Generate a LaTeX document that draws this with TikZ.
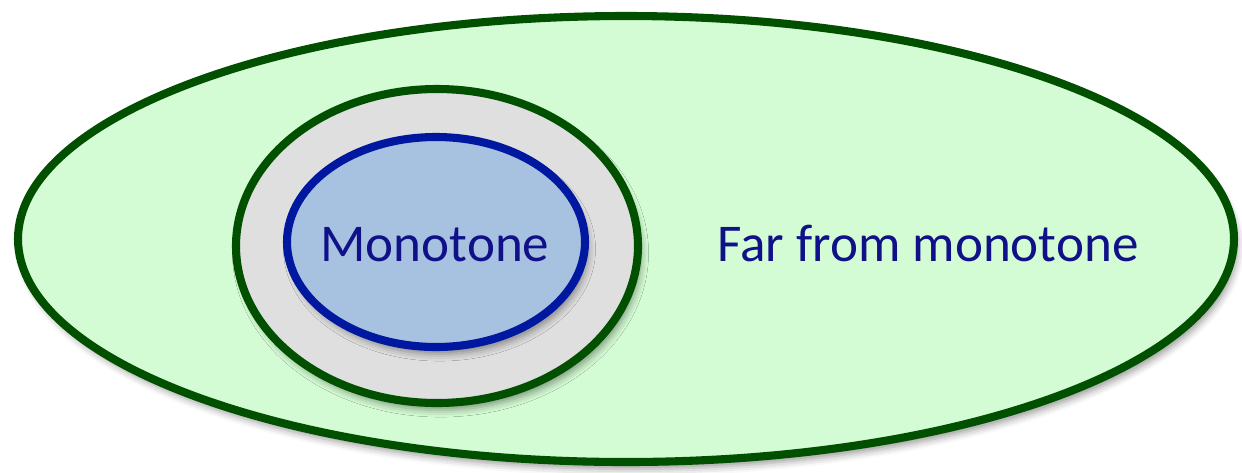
\documentclass[tikz,border=0pt]{standalone}
\usepackage{fontspec}
\setmainfont{Carlito}
\usepackage{xcolor}
\usepackage{tikz}
\usetikzlibrary{shadows.blur}
\definecolor{farfill}{HTML}{D4FCD4}
\definecolor{fardraw}{HTML}{005000}
\definecolor{nearfill}{HTML}{DFDFDF}
\definecolor{monofill}{HTML}{A7C1E0}
\definecolor{monodraw}{HTML}{0018A0}
\definecolor{labeltext}{HTML}{101088}

\begin{document}
\begin{tikzpicture}[x=0.01cm,y=-0.01cm,
  region/.style={line width=2.3pt,blur shadow={shadow xshift=1pt,shadow yshift=-2pt,shadow blur radius=2pt,shadow opacity=40}},
  regionlabel/.style={text=labeltext,font=\fontsize{15.1}{18}\selectfont,inner sep=0pt}]
\useasboundingbox (0,0) rectangle (1242,472);
\draw[region,fill=farfill,draw=fardraw] (626,239) ellipse [x radius=608,y radius=223];
\draw[region,fill=nearfill,draw=fardraw] (437,246) ellipse [x radius=201,y radius=157];
\draw[region,fill=monofill,draw=monodraw] (436,242) ellipse [x radius=149,y radius=105];
\node[regionlabel] (mono) at (435,245) {Monotone};
\node[regionlabel] (far) at (928,243) {Far from monotone};
\end{tikzpicture}
\end{document}
